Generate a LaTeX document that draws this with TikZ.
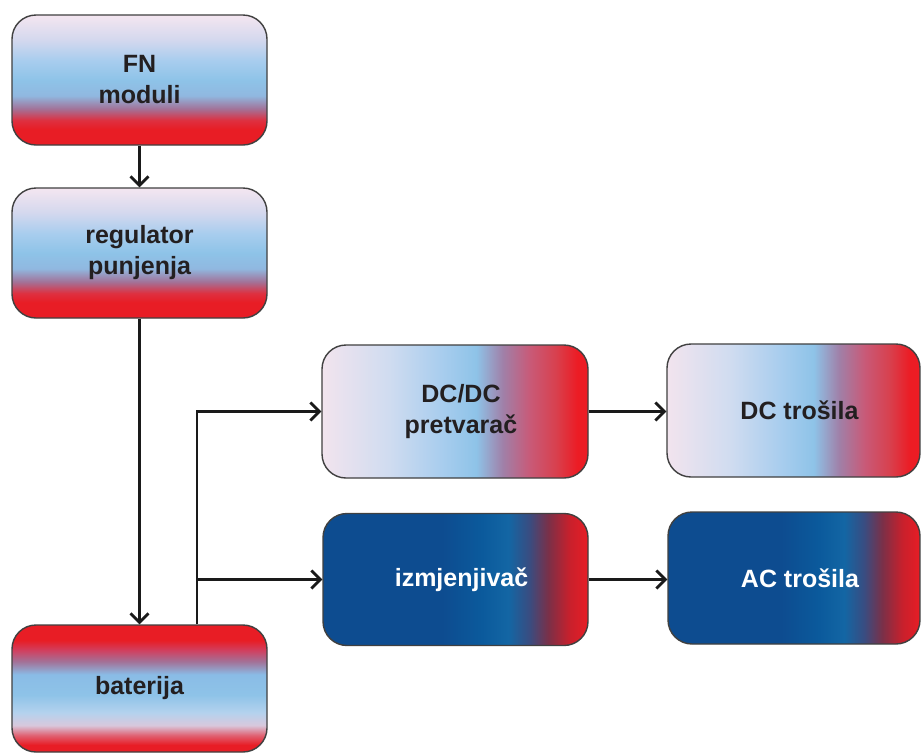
\documentclass[tikz,border=0pt]{standalone}
\usepackage{fontspec}
\setmainfont{Liberation Sans}
\usetikzlibrary{arrows.meta,shadings}
\definecolor{cRed}{HTML}{E81D25}
\definecolor{cRedA}{HTML}{DE3040}
\definecolor{cPurp}{HTML}{A27399}
\definecolor{cBlueA}{HTML}{90B8E0}
\definecolor{cBlue}{HTML}{8EC3E8}
\definecolor{cLBlue}{HTML}{A8CDEE}
\definecolor{cLav}{HTML}{D4D8EE}
\definecolor{cPale}{HTML}{F4E6F0}
\definecolor{cPinkR}{HTML}{E06070}
\definecolor{cPinkL}{HTML}{D8C8DC}
\definecolor{cLB2}{HTML}{B4D2EE}
\definecolor{cBlueB}{HTML}{8ABCE6}
\definecolor{cRP}{HTML}{D04060}
\definecolor{cHPale}{HTML}{F2E4EE}
\definecolor{cHLav}{HTML}{D0DCF0}
\definecolor{cHPurp}{HTML}{A080A8}
\definecolor{cHPR}{HTML}{C85A78}
\definecolor{cHRed2}{HTML}{D8404E}
\definecolor{cHRed}{HTML}{EC1C24}
\definecolor{cNavy}{HTML}{0D4C90}
\definecolor{cNavyB}{HTML}{0B5A9C}
\definecolor{cTeal}{HTML}{1366A4}
\definecolor{cDP}{HTML}{3A4C80}
\definecolor{cDR}{HTML}{7A3048}
\definecolor{cMR}{HTML}{C8202C}
\definecolor{cText}{HTML}{231F20}
\definecolor{cBorder}{HTML}{404040}
\definecolor{cArrow}{HTML}{1A1A1A}
% vertical: bottom -> top, box maps to 25bp..75bp
\pgfdeclareverticalshading{topshade}{100bp}{%
 color(0bp)=(cRed); color(25bp)=(cRed); color(31bp)=(cRed); color(34.5bp)=(cRedA);
 color(39bp)=(cPurp); color(44bp)=(cBlueA); color(50bp)=(cBlue); color(57.5bp)=(cLBlue);
 color(65.5bp)=(cLav); color(75bp)=(cPale); color(100bp)=(cPale)}
\pgfdeclareverticalshading{batshade}{100bp}{%
 color(0bp)=(cRed); color(25bp)=(cRed); color(27.75bp)=(cRed); color(31.5bp)=(cPinkR);
 color(35.5bp)=(cPinkL); color(40.5bp)=(cLB2); color(47.5bp)=(cBlue); color(55.5bp)=(cBlueB);
 color(60.5bp)=(cPurp); color(65bp)=(cRP); color(69bp)=(cRed); color(75bp)=(cRed); color(100bp)=(cRed)}
% horizontal: left -> right
\pgfdeclarehorizontalshading{dcshade}{100bp}{%
 color(0bp)=(cHPale); color(25bp)=(cHPale); color(37.5bp)=(cHLav); color(47.5bp)=(cLBlue);
 color(54bp)=(cBlue); color(59bp)=(cHPurp); color(64bp)=(cHPR); color(69bp)=(cHRed2);
 color(73bp)=(cHRed); color(75bp)=(cHRed); color(100bp)=(cHRed)}
\pgfdeclarehorizontalshading{acshade}{100bp}{%
 color(0bp)=(cNavy); color(25bp)=(cNavy); color(47.5bp)=(cNavy); color(55bp)=(cNavyB);
 color(60bp)=(cTeal); color(64bp)=(cDP); color(67.5bp)=(cDR); color(71.5bp)=(cMR);
 color(75bp)=(cRed); color(100bp)=(cRed)}
\newcommand{\rsh}{\hspace*{12pt}}
\tikzset{
  box/.style={draw=cBorder, line width=1.4pt, rounded corners=24pt, shade,
    align=center, text=cText, font=\bfseries\fontsize{25}{31}\selectfont, inner sep=0pt},
  vbox/.style={box, shading=topshade, minimum width=255pt, minimum height=130pt},
  batbox/.style={box, shading=batshade, minimum width=255pt, minimum height=127pt},
  hbox/.style={box, shading=dcshade, minimum height=133pt},
  abox/.style={box, shading=acshade, text=white, minimum height=132pt},
  arr/.style={draw=cArrow, line width=2.8pt, -{Straight Barb[length=9pt,width=18pt]}}
}
\begin{document}
\begin{tikzpicture}[x=1pt,y=-1pt]
\useasboundingbox[fill=white] (0,0) rectangle (921,753);
\node[vbox] (fn) at (139.5,80) {FN\\moduli};
\node[vbox] (reg) at (139.5,253) {regulator\\punjenja};
\node[batbox] (bat) at (139.5,688.5) {baterija};
\node[hbox, minimum width=266pt] (dcdc) at (455,411.5) {\rsh DC/DC\\\rsh pretvarač};
\node[hbox, minimum width=253pt] (dct) at (793.5,410.5) {\rsh DC trošila};
\node[abox, minimum width=265pt] (izm) at (455.5,579.5) {\rsh izmjenjivač};
\node[abox, minimum width=252pt] (act) at (794,578) {\rsh AC trošila};
\coordinate (j) at (197,578);
\draw[arr] (fn.south) -- (reg.north);
\draw[arr] (reg.south) -- (bat.north);
\draw[arr] (bat.north -| j) |- (dcdc.west);
\draw[arr] (j |- izm.west) -- (izm.west);
\draw[arr] (dcdc.east) -- (dct.west |- dcdc.east);
\draw[arr] (izm.east) -- (act.west |- izm.east);
\end{tikzpicture}
\end{document}
